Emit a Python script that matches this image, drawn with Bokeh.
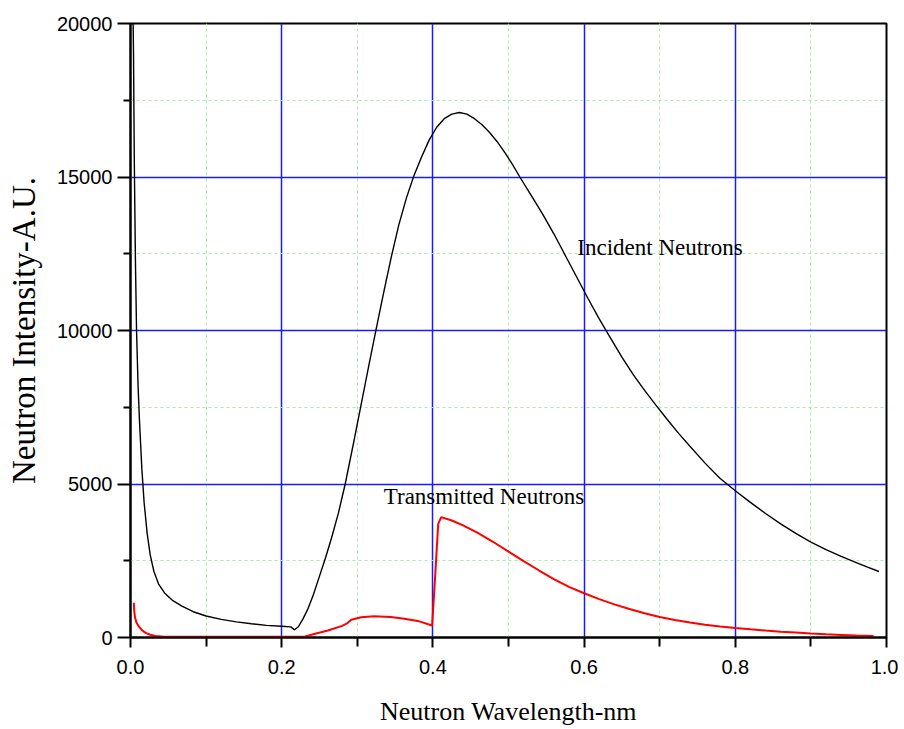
from bokeh.plotting import figure
from bokeh.models import FixedTicker, Range1d, PrintfTickFormatter, NumeralTickFormatter, ColumnDataSource
from bokeh.core.properties import value
from bokeh.embed import file_html
from bokeh.resources import INLINE

# ---- data ----
incident_x = [0.003, 0.004, 0.005, 0.0065, 0.008, 0.01, 0.012, 0.015, 0.018, 0.022, 0.026, 0.031,
              0.037, 0.045, 0.055, 0.068, 0.083, 0.1, 0.12, 0.14, 0.16, 0.18, 0.2, 0.212, 0.217,
              0.222, 0.228, 0.235, 0.242, 0.25, 0.258, 0.266, 0.275, 0.284, 0.295, 0.305, 0.315,
              0.325, 0.335, 0.345, 0.355, 0.365, 0.375, 0.385, 0.395, 0.405, 0.415, 0.425, 0.435,
              0.445, 0.455, 0.465, 0.475, 0.485, 0.495, 0.505, 0.515, 0.53, 0.545, 0.56, 0.575,
              0.59, 0.605, 0.62, 0.635, 0.65, 0.665, 0.68, 0.695, 0.71, 0.725, 0.74, 0.76, 0.78,
              0.8, 0.82, 0.84, 0.86, 0.88, 0.9, 0.92, 0.94, 0.96, 0.975, 0.99]
incident_y = [21000, 19000, 15600, 12300, 10000, 8200, 7000, 5500, 4400, 3400, 2700, 2150,
              1750, 1450, 1220, 1020, 840, 700, 590, 510, 450, 395, 365, 345, 250,
              350, 600, 950, 1400, 2000, 2600, 3250, 4050, 5000, 6330, 7580, 8830,
              10050, 11250, 12400, 13450, 14320, 15050, 15650, 16200, 16620, 16900, 17050, 17100,
              17050, 16900, 16700, 16450, 16150, 15800, 15420, 15000, 14400, 13800, 13150, 12450,
              11750, 11050, 10380, 9750, 9130, 8560, 8050, 7570, 7100, 6650, 6230, 5680, 5180,
              4780, 4400, 4040, 3700, 3390, 3110, 2860, 2640, 2440, 2290, 2150]

transmitted_x = [0.0044, 0.005, 0.006, 0.008, 0.011, 0.015, 0.02, 0.026, 0.033, 0.045, 0.1, 0.15,
                 0.2, 0.23, 0.243, 0.261, 0.28, 0.287, 0.292, 0.305, 0.322, 0.344, 0.36, 0.38,
                 0.399, 0.403, 0.407, 0.411, 0.425, 0.44, 0.46, 0.48, 0.5, 0.52, 0.54, 0.56, 0.58,
                 0.6, 0.62, 0.64, 0.66, 0.68, 0.7, 0.72, 0.74, 0.76, 0.78, 0.8, 0.82, 0.84, 0.86,
                 0.88, 0.9, 0.92, 0.94, 0.96, 0.983]
transmitted_y = [1130, 850, 650, 480, 360, 240, 150, 90, 50, 25, 25, 25,
                 25, 25, 115, 230, 380, 470, 580, 660, 690, 665, 620, 540,
                 390, 2000, 3700, 3920, 3810, 3650, 3400, 3110, 2800, 2490, 2190, 1900, 1650,
                 1440, 1250, 1080, 930, 790, 665, 570, 490, 415, 360, 310, 265, 225, 190,
                 160, 130, 105, 85, 65, 45]

x_ticks = [0.0, 0.2, 0.4, 0.6, 0.8, 1.0]
x_minor = [0.1, 0.3, 0.5, 0.7, 0.9]
y_ticks = [0, 5000, 10000, 15000, 20000]
y_minor = [2500, 7500, 12500, 17500]

label_texts = ["Incident Neutrons", "Transmitted Neutrons"]
label_x = [0.591, 0.335]
label_y = [12700, 4600]

# ---- figure ----
p = figure(width=898, height=728, output_backend="svg", toolbar_location=None,
           x_range=Range1d(0, 1), y_range=Range1d(0, 20000),
           min_border_left=130, min_border_right=12, min_border_top=23, min_border_bottom=90)
p.background_fill_color = "white"
p.border_fill_color = "white"
p.outline_line_color = "black"
p.outline_line_width = 2
p.outline_line_alpha = 1

# grids
p.xgrid.ticker = FixedTicker(ticks=[0.2, 0.4, 0.6, 0.8], minor_ticks=x_minor)
p.ygrid.ticker = FixedTicker(ticks=[5000, 10000, 15000], minor_ticks=y_minor)
for g in (p.xgrid[0], p.ygrid[0]):
    g.grid_line_color = "#1a1aff"
    g.grid_line_width = 1.5
    g.grid_line_alpha = 1
    g.minor_grid_line_color = "#a8eca8"
    g.minor_grid_line_dash = "3 3"
    g.minor_grid_line_width = 1

# axes
p.xaxis.ticker = FixedTicker(ticks=x_ticks, minor_ticks=x_minor)
p.xaxis.formatter = PrintfTickFormatter(format="%.1f")
p.yaxis.ticker = FixedTicker(ticks=y_ticks, minor_ticks=y_minor)
p.yaxis.formatter = NumeralTickFormatter(format="0")

for ax in (p.xaxis[0], p.yaxis[0]):
    ax.axis_line_color = "black"
    ax.axis_line_width = 2
    ax.major_tick_line_color = "black"
    ax.major_tick_line_width = 2
    ax.minor_tick_line_color = "black"
    ax.minor_tick_line_width = 2
    ax.major_tick_in = 0
    ax.minor_tick_in = 0
    ax.major_label_text_font = "Liberation Sans"
    ax.major_label_text_font_size = "20px"
    ax.major_label_text_color = "black"
    ax.axis_label_text_font = "Liberation Serif"
    ax.axis_label_text_font_style = "normal"
    ax.axis_label_text_color = "black"

p.xaxis.major_tick_out = 10
p.xaxis.minor_tick_out = 9
p.xaxis.major_label_standoff = 12
p.xaxis.axis_label = "Neutron Wavelength-nm"
p.xaxis.axis_label_text_font_size = "26px"
p.xaxis.axis_label_standoff = 20

p.yaxis.major_tick_out = 13
p.yaxis.minor_tick_out = 7
p.yaxis.major_label_standoff = 5
p.yaxis.axis_label = "Neutron Intensity-A.U."
p.yaxis.axis_label_text_font_size = "33px"
p.yaxis.axis_label_standoff = 12

# curves
p.line(incident_x, incident_y, line_color="black", line_width=1.4)
p.line(transmitted_x, transmitted_y, line_color="#ff0000", line_width=2)

src = ColumnDataSource(dict(x=label_x, y=label_y, t=label_texts))
p.text(x="x", y="y", text="t", source=src, text_font=value("Liberation Serif"),
       text_font_size="23px", text_color="black", text_align="left", text_baseline="alphabetic")

open("out.html", "w").write(file_html(p, INLINE))
